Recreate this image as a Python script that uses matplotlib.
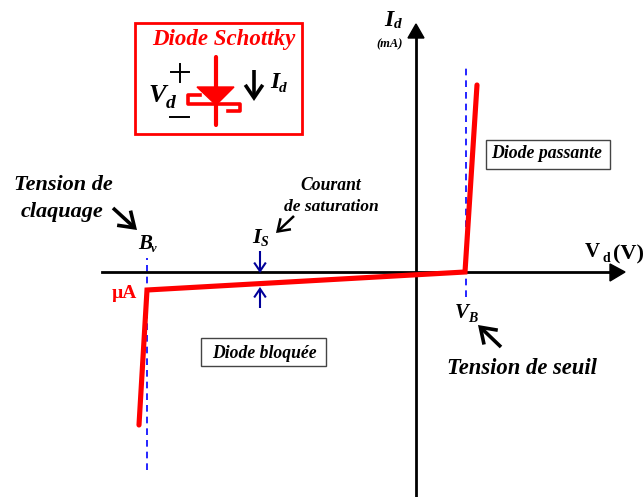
import matplotlib
matplotlib.use("Agg")
import matplotlib.pyplot as plt
from matplotlib.patches import Rectangle, Polygon

# caracteristique I(V), origine au croisement des axes
curve_v = [-277, -269, 49, 61]
curve_i = [-153, -18, 0, 187]

breakdown_v = -269
threshold_v = 50

RED = "#ff0000"
BLUE = "#0000ff"
NAVY = "#000099"
SERIF = "Liberation Serif"

# axe centre sur (416, 272) dans l'image
OX, OY = 416, 272


def px(x, y):
    """position en pixels de l'image -> coordonnees des axes"""
    return x - OX, OY - y


def label(ax, x, y, s, size, color="black", style="italic", ha="center", va="center", z=6):
    ax.text(*px(x, y), s, fontsize=size, color=color, family=SERIF,
            style=style, weight="bold", ha=ha, va=va, zorder=z)


def arrow(ax, start, end, color="black", lw=2.5, scale=17, style="->,head_width=0.42,head_length=0.62"):
    ax.annotate("", xy=px(*end), xytext=px(*start),
                arrowprops=dict(arrowstyle=style, color=color, lw=lw,
                                mutation_scale=scale, shrinkA=0, shrinkB=0,
                                joinstyle="miter", capstyle="butt"))


fig = plt.figure(figsize=(6.44, 4.97), dpi=100)
ax = fig.add_axes([0, 0, 1, 1])
ax.set_xlim(-OX, 644 - OX)
ax.set_ylim(OY - 497, OY)
ax.axis("off")

# axes
ax.plot(*zip(px(102, 272), px(612, 272)), color="black", lw=2, zorder=2)
ax.plot(*zip(px(416, 497), px(416, 36)), color="black", lw=2, zorder=2)
ax.add_patch(Polygon([px(625, 272), px(610, 264), px(610, 281)], color="black", zorder=2))
ax.add_patch(Polygon([px(416, 24), px(408, 38), px(424, 38)], color="black", zorder=2))

# reperes
ax.plot([breakdown_v, breakdown_v], [OY - 470, OY - 258], color=BLUE, lw=1.2,
        ls=(0, (4, 3)), zorder=1)
ax.plot([threshold_v, threshold_v], [OY - 297, OY - 68], color=BLUE, lw=1.2,
        ls=(0, (4, 3)), zorder=1)

# caracteristique
ax.plot(curve_v, curve_i, color=RED, lw=3.7, solid_joinstyle="miter",
        solid_capstyle="round", zorder=3)

# cadre du symbole
ax.add_patch(Rectangle(px(135, 134), 167, 111, fill=False, ec=RED, lw=2))
label(ax, 224, 40, "Diode Schottky", 16.5, color=RED)

# symbole de la diode
ax.plot(*zip(px(216, 57), px(216, 125)), color=RED, lw=3, solid_capstyle="round")
ax.add_patch(Polygon([px(197, 87), px(234, 87), px(216, 105)], color=RED))
ax.plot(*zip(px(200, 95), px(188, 95), px(188, 104), px(240, 104), px(240, 111), px(228, 111)),
        color=RED, lw=2.6, solid_joinstyle="round")

ax.plot(*zip(px(171, 72), px(189, 72)), color="black", lw=1.4)
ax.plot(*zip(px(180, 64), px(180, 82)), color="black", lw=1.4)
ax.plot(*zip(px(170, 117), px(189, 117)), color="black", lw=1.4)
label(ax, 157, 95, "V", 19)
label(ax, 171, 103, "d", 14)
arrow(ax, (254, 70), (254, 101), lw=2.6, scale=15)
label(ax, 275, 83, "I", 17)
label(ax, 283, 88, "d", 11)

# axes : titres
label(ax, 389, 21, "I", 17)
label(ax, 398, 24, "d", 11)
label(ax, 390, 44, "(mA)", 9)
label(ax, 592, 252, "V", 15, style="normal")
label(ax, 606, 258, "d", 10, style="normal")
label(ax, 628, 254, "(V)", 16, style="normal")

# annotations
label(ax, 63, 185, "Tension de", 16)
label(ax, 62, 212, "claquage", 16)
arrow(ax, (113, 208), (137, 230), lw=2.6)
label(ax, 145, 244, "B", 15)
label(ax, 154, 249, "v", 9)
label(ax, 124, 293, "µA", 14, color=RED, style="normal")

label(ax, 331, 185, "Courant", 12.7)
label(ax, 331, 207, "de saturation", 12.6)
arrow(ax, (294, 216), (276, 233), lw=1.8, scale=13)
label(ax, 257, 238, "I", 16)
label(ax, 265, 243, "S", 10)
arrow(ax, (260, 251), (260, 273), color=NAVY, lw=1.5, scale=10)
arrow(ax, (260, 308), (260, 287), color=NAVY, lw=1.5, scale=10)

label(ax, 462, 313, "V", 15)
label(ax, 473, 318, "B", 10)
arrow(ax, (501, 347), (478, 325), lw=2.6)
label(ax, 522, 368, "Tension de seuil", 16.3)

# zones
ax.add_patch(Rectangle(px(201, 366), 125, 28, fc="white", ec="#444444", lw=1, zorder=4))
label(ax, 264, 353, "Diode bloquée", 12.7)
ax.add_patch(Rectangle(px(486, 169), 124, 29, fc="white", ec="#444444", lw=1, zorder=4))
label(ax, 547, 153, "Diode passante", 12.8)

fig.savefig("out.png", dpi=100)
